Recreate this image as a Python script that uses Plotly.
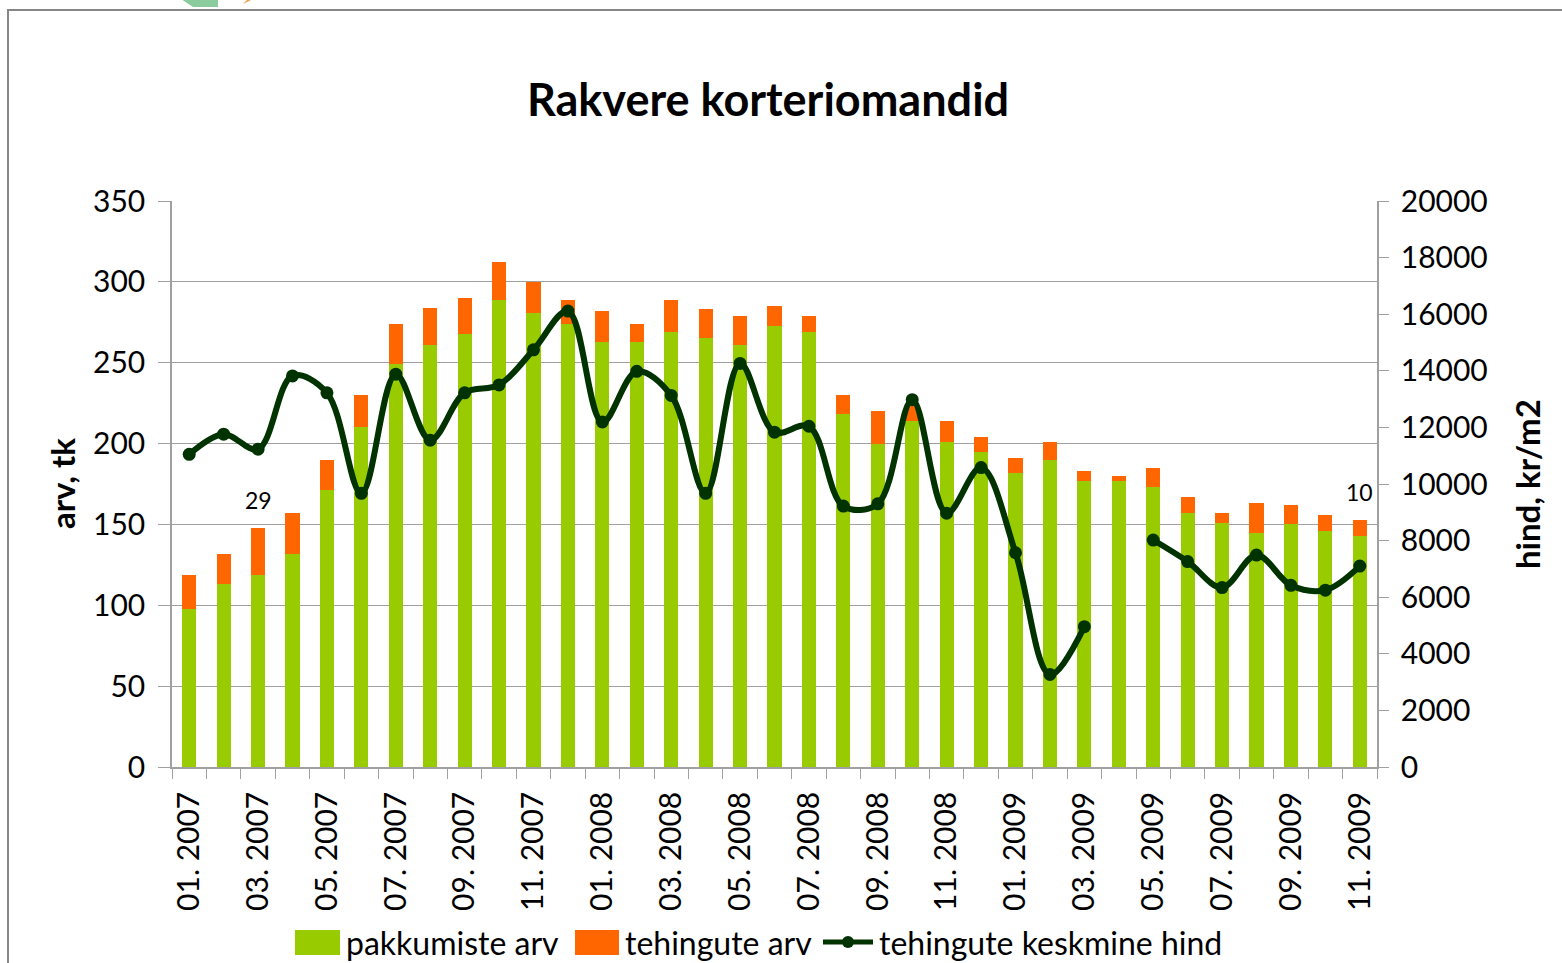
import plotly.graph_objects as go

# ---------------- data ----------------
months = [
    "01. 2007", "02. 2007", "03. 2007", "04. 2007", "05. 2007", "06. 2007",
    "07. 2007", "08. 2007", "09. 2007", "10. 2007", "11. 2007", "12. 2007",
    "01. 2008", "02. 2008", "03. 2008", "04. 2008", "05. 2008", "06. 2008",
    "07. 2008", "08. 2008", "09. 2008", "10. 2008", "11. 2008", "12. 2008",
    "01. 2009", "02. 2009", "03. 2009", "04. 2009", "05. 2009", "06. 2009",
    "07. 2009", "08. 2009", "09. 2009", "10. 2009", "11. 2009",
]
pakkumiste_arv = [98, 113, 119, 132, 171, 210, 249, 261, 268, 289, 281, 274,
                  263, 263, 269, 265, 261, 273, 269, 218, 200, 214, 201, 195,
                  182, 190, 177, 177, 173, 157, 151, 145, 150, 146, 143]
tehingute_arv = [21, 19, 29, 25, 19, 20, 25, 23, 22, 23, 19, 15,
                 19, 11, 20, 18, 18, 12, 10, 12, 20, 9, 13, 9,
                 9, 11, 6, 3, 12, 10, 6, 18, 12, 10, 10]
keskmine_hind = [11050, 11760, 11230, 13820, 13220, 9670, 13880, 11550, 13220, 13500, 14740, 16110,
                 12190, 13980, 13130, 9670, 14260, 11830, 12040, 9220, 9300, 12980, 8970, 10580,
                 7570, 3270, 4960, None, 8020, 7260, 6340, 7490, 6420, 6250, 7100]
labelled_points = [2, 34]          # months whose "tehingute arv" value is labelled
left_ticks = [0, 50, 100, 150, 200, 250, 300, 350]
right_ticks = [0, 2000, 4000, 6000, 8000, 10000, 12000, 14000, 16000, 18000, 20000]

# ---------------- layout geometry ----------------
W, H = 1562, 963
L, R, T, B = 172, 1377, 201, 767


def px(x):
    return (x - L) / (R - L)


def py(y):
    return (B - y) / (B - T)


FONT = "Lato"
GREEN = "#99CC00"
ORANGE = "#FF6600"
DARK = "#003300"
GRID = "#A0A0A0"

fig = go.Figure()
fig.add_trace(go.Bar(x=months, y=pakkumiste_arv, name="pakkumiste arv",
                     marker=dict(color=GREEN, line=dict(width=0)), width=0.41))
fig.add_trace(go.Bar(x=months, y=tehingute_arv, name="tehingute arv",
                     marker=dict(color=ORANGE, line=dict(width=0)), width=0.41))
fig.add_trace(go.Scatter(x=months, y=keskmine_hind, name="tehingute keskmine hind",
                         yaxis="y2", mode="lines+markers", connectgaps=False,
                         line=dict(color=DARK, width=6, shape="spline", smoothing=1.0),
                         marker=dict(color=DARK, size=13)))

annotations = []
# data labels
for i in labelled_points:
    annotations.append(dict(x=months[i], y=pakkumiste_arv[i] + tehingute_arv[i], xref="x", yref="y",
                            text=str(tehingute_arv[i]), showarrow=False, yanchor="bottom",
                            yshift=12, font=dict(family=FONT, size=23, color="black")))
# axis titles
annotations.append(dict(x=px(62), y=0.5, xref="paper", yref="paper", text="<b>arv, tk</b>",
                        textangle=-90, showarrow=False, xanchor="center", yanchor="middle",
                        font=dict(family=FONT, size=33, color="black")))
annotations.append(dict(x=px(1527), y=0.5, xref="paper", yref="paper", text="<b>hind, kr/m2</b>",
                        textangle=-90, showarrow=False, xanchor="center", yanchor="middle",
                        font=dict(family=FONT, size=33, color="black")))
# legend texts
for xpos, txt in [(344, "pakkumiste arv"), (623, "tehingute arv"), (877, "tehingute keskmine hind")]:
    annotations.append(dict(x=px(xpos), y=py(942), xref="paper", yref="paper", text=txt,
                            showarrow=False, xanchor="left", yanchor="middle",
                            font=dict(family=FONT, size=32, color="black")))

shapes = []
# chart frame
shapes.append(dict(type="path", xref="paper", yref="paper",
                   path=f"M{px(8)},{py(1100)} L{px(8)},{py(10)} L{px(1700)},{py(10)}",
                   line=dict(color="#868686", width=2), layer="below"))
# logo fragment at top
shapes.append(dict(type="path", xref="paper", yref="paper",
                   path=f"M{px(175)},{py(-5)} L{px(218)},{py(-5)} L{px(218)},{py(7)} L{px(193)},{py(7)} Z",
                   fillcolor="#8CCB9E", line=dict(width=0)))
shapes.append(dict(type="path", xref="paper", yref="paper",
                   path=f"M{px(243)},{py(4)} L{px(252)},{py(-5)} L{px(261)},{py(-5)} Z",
                   fillcolor="#F29A4A", line=dict(width=0)))
# legend glyphs
shapes.append(dict(type="rect", xref="paper", yref="paper", x0=px(295), x1=px(340),
                   y0=py(955), y1=py(930), fillcolor=GREEN, line=dict(width=0)))
shapes.append(dict(type="rect", xref="paper", yref="paper", x0=px(575), x1=px(619),
                   y0=py(955), y1=py(930), fillcolor=ORANGE, line=dict(width=0)))
shapes.append(dict(type="line", xref="paper", yref="paper", x0=px(823), x1=px(873),
                   y0=py(942), y1=py(942), line=dict(color=DARK, width=5)))
shapes.append(dict(type="circle", xref="paper", yref="paper", x0=px(842), x1=px(854),
                   y0=py(948), y1=py(936), fillcolor=DARK, line=dict(width=0)))

fig.update_layout(
    width=W, height=H,
    margin=dict(l=L, r=W - R, t=T, b=H - B, autoexpand=False),
    paper_bgcolor="white", plot_bgcolor="white",
    barmode="stack", showlegend=False,
    title=dict(text="<b>Rakvere korteriomandid</b>", x=768 / W, xref="container",
               y=1 - 100 / H, yref="container", xanchor="center", yanchor="middle",
               font=dict(family=FONT, size=45, color="black")),
    font=dict(family=FONT, color="black"),
    xaxis=dict(type="category", range=[-0.5, len(months) - 0.5],
               tickmode="array", tickvals=months,
               ticktext=[m if i % 2 == 0 else "" for i, m in enumerate(months)],
               tickangle=-90, ticks="outside", tickson="boundaries", ticklen=10,
               tickcolor=GRID, tickwidth=1.3, showline=True, linecolor=GRID, linewidth=1.5,
               showgrid=False, tickfont=dict(family=FONT, size=30, color="black"),
               ticklabelstandoff=11),
    yaxis=dict(range=[0, 350], tickmode="array", tickvals=left_ticks,
               ticktext=[str(v) for v in left_ticks], ticks="outside",
               ticklen=12, tickcolor=GRID, tickwidth=1.3, showline=True, linecolor=GRID,
               linewidth=1.5, showgrid=True, gridcolor=GRID, gridwidth=1.3, zeroline=False,
               tickfont=dict(family=FONT, size=30, color="black"), ticklabelstandoff=7),
    yaxis2=dict(range=[0, 20000], overlaying="y", side="right", tickmode="array",
                tickvals=right_ticks, ticktext=[str(v) for v in right_ticks],
                ticks="outside", ticklen=10, tickcolor=GRID, tickwidth=1.3,
                showline=True, linecolor=GRID, linewidth=1.5, showgrid=False, zeroline=False,
                tickfont=dict(family=FONT, size=30, color="black"), ticklabelstandoff=6),
    annotations=annotations,
    shapes=shapes,
)

fig.write_html("out.html", config={"displayModeBar": False},
               post_script="document.body.style.margin='0';document.body.style.overflow='hidden';")
